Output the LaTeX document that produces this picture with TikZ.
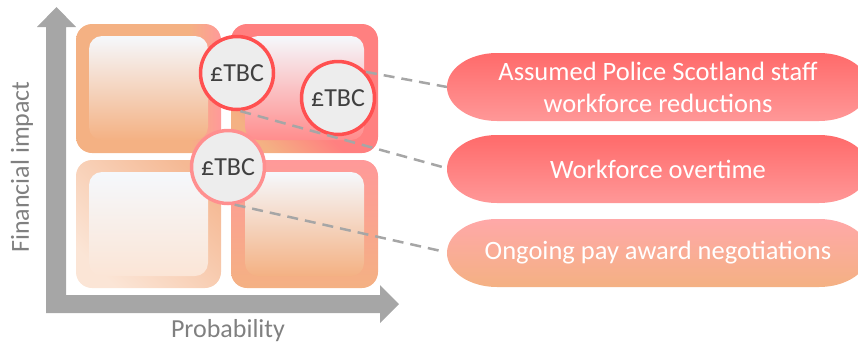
\documentclass[tikz,border=0pt]{standalone}
\usepackage{fontspec}
\setmainfont{Carlito}
\usetikzlibrary{positioning}

\definecolor{qorange}{HTML}{F4B183}
\definecolor{qpink}{HTML}{FF9999}
\definecolor{qred}{HTML}{FF8080}
\definecolor{qlight}{HTML}{F5B994}
\definecolor{qpale}{HTML}{FBE5D6}
\definecolor{qwhite}{HTML}{F5F8FC}
\definecolor{ringred}{HTML}{FF5050}
\definecolor{ringpink}{HTML}{FF8F8F}
\definecolor{axisgray}{HTML}{A6A6A6}
\definecolor{diskgray}{HTML}{EDEDED}
\definecolor{textgray}{HTML}{404040}
\definecolor{labelgray}{HTML}{808080}

\pgfdeclarehorizontalshading{tlframe}{100bp}{color(0bp)=(qorange); color(25bp)=(qorange); color(64bp)=(qorange); color(75bp)=(qpink); color(100bp)=(qpink)}
\pgfdeclarehorizontalshading{trframe}{100bp}{color(0bp)=(qorange); color(25bp)=(qorange); color(44bp)=(qred); color(100bp)=(qred)}
\pgfdeclarehorizontalshading{blframe}{100bp}{color(0bp)=(qpale); color(25bp)=(qpale); color(75bp)=(qlight); color(100bp)=(qlight)}

\begin{document}
\begin{tikzpicture}[x=1pt, y=-1pt,
    frame/.style={rounded corners=16pt},
    inner/.style={rounded corners=13pt},
    cost/.style={circle, draw, line width=3.5pt, fill=diskgray, minimum size=73pt, inner sep=0pt,
        text=textgray, font=\fontsize{26}{30}\selectfont},
    pilltext/.style={text=white, align=center, font=\fontsize{26.5}{32}\selectfont},
    axislabel/.style={text=labelgray, font=\fontsize{26}{30}\selectfont},
    leader/.style={draw=axisgray, line width=2.5pt, dash pattern=on 11pt off 7pt}]
    \useasboundingbox (0,0) rectangle (858,346);
    \clip (0,0) rectangle (858,346);

    % Axes
    \fill[axisgray] (46,313) -- (46,27) -- (37,27) -- (56.5,7) -- (76,27) -- (66,27) -- (66,295)
        -- (380,295) -- (380,285) -- (399,304) -- (380,323) -- (380,313) -- cycle;
    \node[axislabel, rotate=90] (ylab) at (22,167) {Financial impact};
    \node[axislabel] (xlab) at (228,331) {Probability};

    % Quadrants
    \shade[frame, shading=tlframe] (76,24) rectangle (221,153);
    \shade[inner, top color=qwhite, middle color=qwhite!45!qorange, bottom color=qorange] (89,36) rectangle (208,140);
    \shade[frame, shading=trframe, shading angle=45] (231,24) rectangle (378,153);
    \shade[inner, top color=qwhite, middle color=qwhite!50!qred, bottom color=qred!90!white] (245,36) rectangle (364,140);
    \shade[frame, shading=blframe, shading angle=45] (76,160) rectangle (221,288);
    \shade[inner, top color=qwhite, bottom color=qpale] (89,172) rectangle (208,276);
    \shade[frame, top color=qpink, middle color=qorange!80!qpink, bottom color=qorange] (231,160) rectangle (378,288);
    \shade[inner, top color=qwhite, middle color=qwhite!50!qorange, bottom color=qorange] (245,172) rectangle (364,276);

    % Risk labels
    \shade[top color=ringred!85!white, bottom color=qpink!95!qred] (497,53)
        arc[start angle=90, end angle=270, x radius=50pt, y radius=34pt] -- (819,121)
        arc[start angle=-90, end angle=90, x radius=50pt, y radius=34pt] -- cycle;
    \shade[top color=ringred!85!white, bottom color=qpink!95!qred] (497,135)
        arc[start angle=90, end angle=270, x radius=50pt, y radius=34pt] -- (819,203)
        arc[start angle=-90, end angle=90, x radius=50pt, y radius=34pt] -- cycle;
    \shade[top color=qpink!85!white, middle color=qpink, bottom color=qorange] (497,219)
        arc[start angle=90, end angle=270, x radius=50pt, y radius=34pt] -- (819,287)
        arc[start angle=-90, end angle=90, x radius=50pt, y radius=34pt] -- cycle;
    \node[pilltext] (p1) at (658,87) {Assumed Police Scotland staff\\workforce reductions};
    \node[pilltext] (p2) at (658,169) {Workforce overtime};
    \node[pilltext] (p3) at (658,253) {Ongoing pay award negotiations};
    \coordinate (p1w) at (447,87);
    \coordinate (p2w) at (446,168);
    \coordinate (p3w) at (441,251);

    % Costs
    \node[cost, draw=ringred] (c1) at (237,73) {£TBC};
    \node[cost, draw=ringred] (c2) at (338,98) {£TBC};
    \node[cost, draw=ringpink] (c3) at (228,167) {£TBC};

    % Leaders
    \draw[leader] (c2.43) -- (p1w);
    \draw[leader] (c1.-85) -- (p2w);
    \draw[leader] (c3.-80) -- (p3w);
\end{tikzpicture}
\end{document}
